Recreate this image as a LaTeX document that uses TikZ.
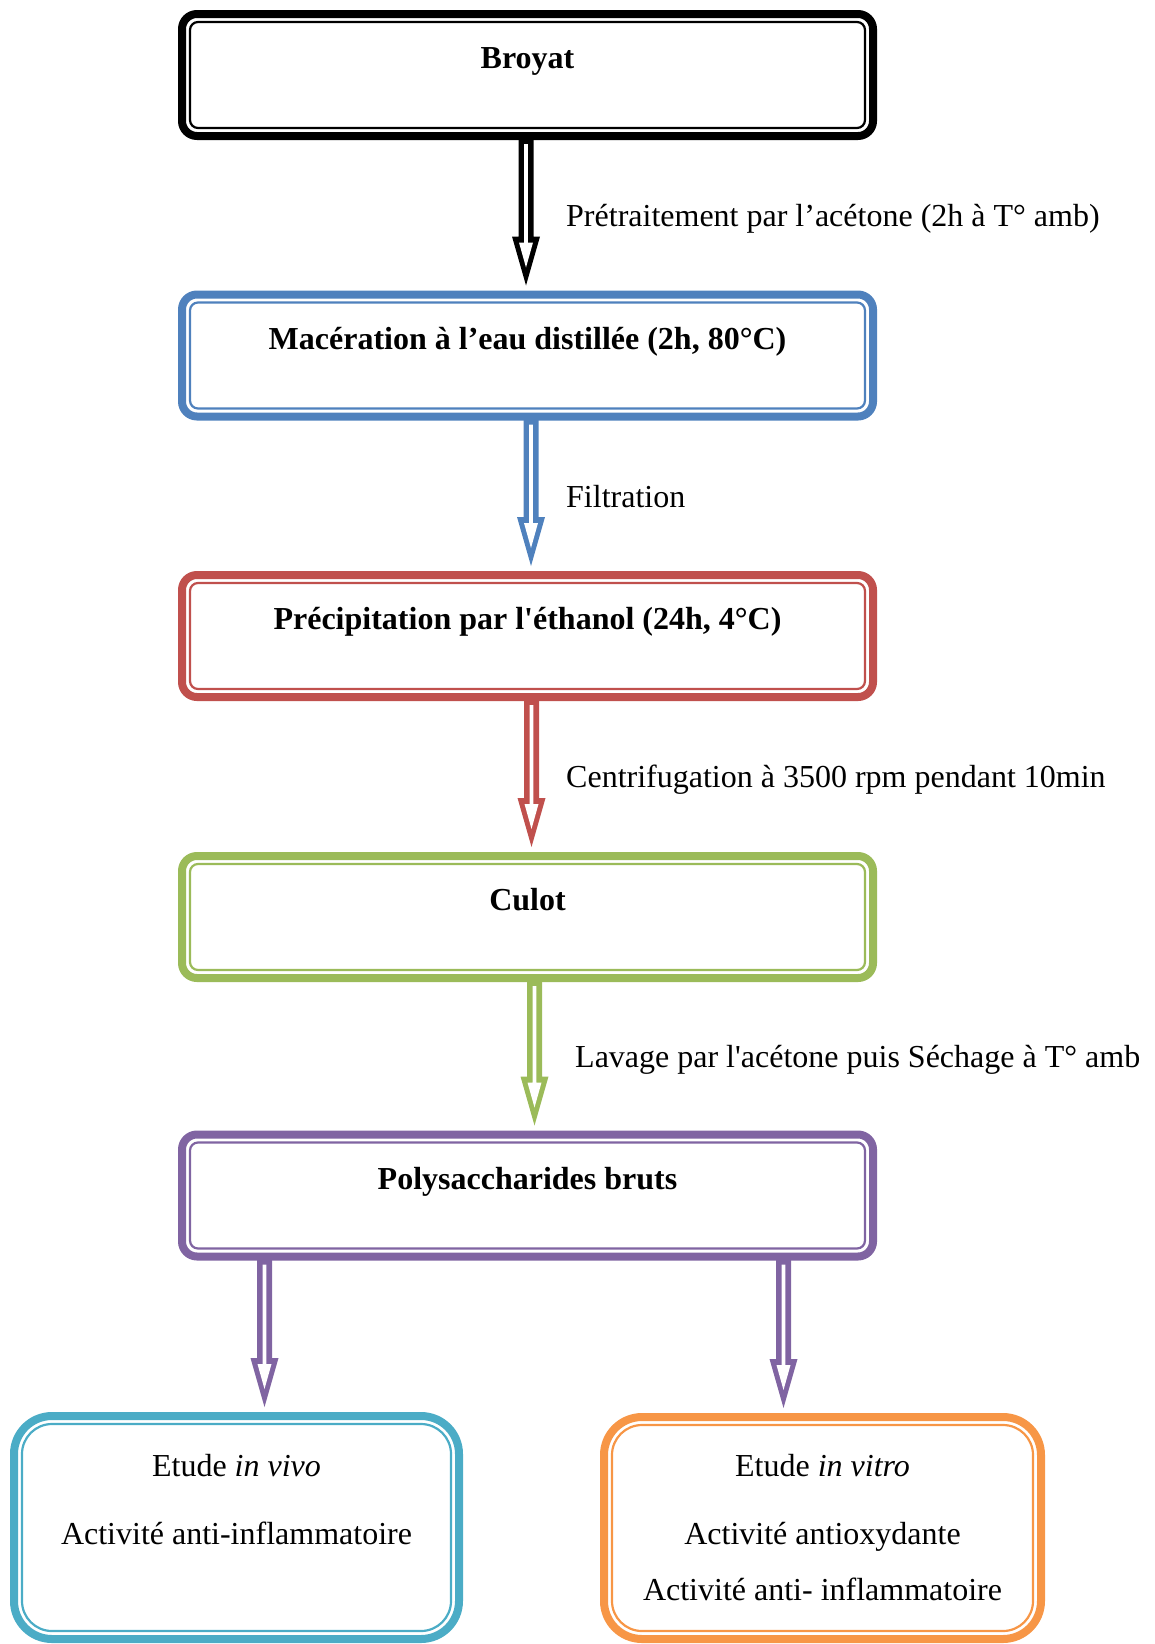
\documentclass[tikz,border=0pt]{standalone}
\usepackage{fontspec}
\setmainfont{Liberation Serif}[Ligatures=TeXOff]
\usetikzlibrary{calc}

\definecolor{boxblue}{HTML}{4F81BD}
\definecolor{boxred}{HTML}{C0504D}
\definecolor{boxgreen}{HTML}{9BBB59}
\definecolor{boxpurple}{HTML}{8064A2}
\definecolor{boxteal}{HTML}{4BACC6}
\definecolor{boxorange}{HTML}{F79646}

\tikzset{
  stage/.style={draw=#1, line width=8pt, rounded corners=15pt,
                minimum width=691pt, minimum height=122pt, outer sep=0pt,
                font=\fontsize{32pt}{38pt}\selectfont\bfseries,
                text height=22pt, text depth=35pt},
  result/.style={draw=#1, line width=8pt, rounded corners=38pt,
                 outer sep=0pt, align=center},
  steplabel/.style={anchor=west, inner sep=0pt}
}

% hollow block arrow from #2 down to the tip #3
\newcommand{\flowarrow}[3]{%
  \fill[#1] ($(#2)+(-7.5,0)$) -- ($(#3)+(-7.5,-49)$) -- ($(#3)+(-14,-49)$) -- (#3)
     -- ($(#3)+(14,-49)$) -- ($(#3)+(7.5,-49)$) -- ($(#2)+(7.5,0)$) -- cycle;
  \fill[white] ($(#2)+(-1.8,8)$) -- ($(#3)+(-1.8,-43)$) -- ($(#3)+(-7,-43)$) -- ($(#3)+(0,-18)$)
     -- ($(#3)+(7,-43)$) -- ($(#3)+(1.8,-43)$) -- ($(#2)+(1.8,8)$) -- cycle;
}

\begin{document}
\begin{tikzpicture}[x=1pt, y=-1pt, font=\fontsize{32pt}{37pt}\selectfont]
  \useasboundingbox (0,0) rectangle (1155,1644);

  % the steps
  \node[stage=black]     (broyat)     at (527.5,75)    {Broyat};
  \node[stage=boxblue]   (maceration) at (527.5,355.5) {Macération à l’eau distillée (2h, 80°C)};
  \node[stage=boxred]    (precip)     at (527.5,636)   {Précipitation par l'éthanol (24h, 4°C)};
  \node[stage=boxgreen]  (culot)      at (527.5,917)   {Culot};
  \node[stage=boxpurple] (poly)       at (527.5,1195.5) {Polysaccharides bruts};

  \node[result=boxteal, minimum width=445pt, minimum height=223pt] (invivo) at (236.5,1527.5)
    {Etude \textit{in vivo}\\[31pt]Activité anti-inflammatoire\\[19pt]\mbox{}};
  \node[result=boxorange, minimum width=437pt, minimum height=222pt] (invitro) at (822.5,1528)
    {Etude \textit{in vitro}\\[31pt]Activité antioxydante\\[19pt]Activité anti- inflammatoire};

  % inner thin frames
  \foreach \b/\c/\r in {broyat/black/8, maceration/boxblue/8, precip/boxred/8,
                        culot/boxgreen/8, poly/boxpurple/8, invivo/boxteal/30, invitro/boxorange/30}
    \draw[\c, line width=2.2pt, rounded corners=\r pt]
      ([shift={(8pt,-8pt)}]\b.north west) rectangle ([shift={(-8pt,8pt)}]\b.south east);

  % arrows
  \coordinate (s1) at ([xshift=-1.5pt]broyat.south);
  \coordinate (t1) at ([yshift=9pt]s1 |- maceration.north);
  \coordinate (s2) at ([xshift=3.5pt]maceration.south);
  \coordinate (t2) at ([yshift=9pt]s2 |- precip.north);
  \coordinate (s3) at ([xshift=4pt]precip.south);
  \coordinate (t3) at ([yshift=9pt]s3 |- culot.north);
  \coordinate (s4) at ([xshift=7pt]culot.south);
  \coordinate (t4) at ([yshift=9pt]s4 |- poly.north);
  \coordinate (s5a) at ([xshift=-263pt]poly.south);
  \coordinate (t5a) at ([yshift=9pt]s5a |- invivo.north);
  \coordinate (s5b) at ([xshift=256pt]poly.south);
  \coordinate (t5b) at ([yshift=9pt]s5b |- invitro.north);

  \flowarrow{black}{s1}{t1}
  \flowarrow{boxblue}{s2}{t2}
  \flowarrow{boxred}{s3}{t3}
  \flowarrow{boxgreen}{s4}{t4}
  \flowarrow{boxpurple}{s5a}{t5a}
  \flowarrow{boxpurple}{s5b}{t5b}

  % labels
  \node[steplabel] (pretrait) at (566,219)  {Prétraitement par l’acétone (2h à T° amb)};
  \node[steplabel] (filtr)    at (566,497)  {Filtration};
  \node[steplabel] (centrif)  at (566,780)  {Centrifugation à 3500 rpm pendant 10min};
  \node[steplabel] (lavage)   at (575,1060) {Lavage par l'acétone puis Séchage à T° amb};
\end{tikzpicture}
\end{document}
